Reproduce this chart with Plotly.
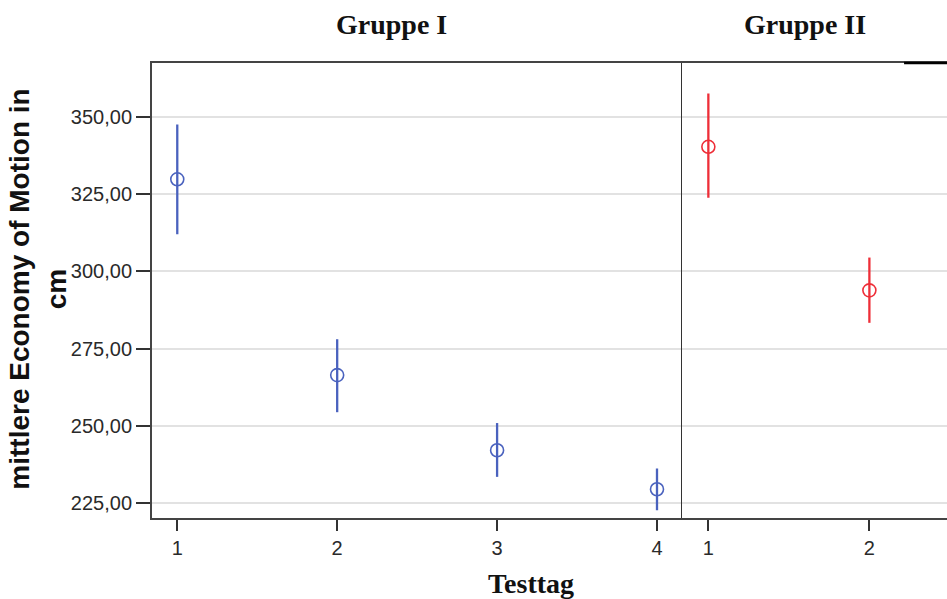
import plotly.graph_objects as go

# Mittelwerte mit 95%-Konfidenzintervall je Testtag
tage_g1 = [1, 2, 3, 4]
mittel_g1 = [329.7, 266.4, 242.1, 229.5]
oben_g1 = [347.4, 278.0, 250.9, 236.2]
unten_g1 = [311.9, 254.4, 233.5, 222.7]

tage_g2 = [1, 2]
mittel_g2 = [340.2, 293.8]
oben_g2 = [357.4, 304.4]
unten_g2 = [323.7, 283.3]

y_ticks = [225, 250, 275, 300, 325, 350]
y_ticktext = [f"{v},00" for v in y_ticks]

BLAU = "#4A62BE"
ROT = "#EE2E38"


def spur(x, m, o, u, farbe, xa, ya):
    return go.Scatter(
        x=x, y=m, xaxis=xa, yaxis=ya, mode="markers",
        marker=dict(symbol="circle-open", size=13, color=farbe,
                    line=dict(width=1.6, color=farbe)),
        error_y=dict(type="data", symmetric=False,
                     array=[a - b for a, b in zip(o, m)],
                     arrayminus=[b - c for b, c in zip(m, u)],
                     color=farbe, thickness=2.3, width=0),
        showlegend=False, hoverinfo="skip",
    )


fig = go.Figure()
fig.add_trace(spur(tage_g1, mittel_g1, oben_g1, unten_g1, BLAU, "x", "y"))
fig.add_trace(spur(tage_g2, mittel_g2, oben_g2, unten_g2, ROT, "x2", "y2"))

tickfont = dict(family="Arial, Liberation Sans, sans-serif", size=20, color="#2a2a2a")
yrange = [220.2, 367.3]
split = 0.667

fig.update_layout(
    width=947, height=599,
    margin=dict(l=152, r=0, t=63, b=81),
    paper_bgcolor="white", plot_bgcolor="white",
    xaxis=dict(domain=[0, split], range=[0.842, 4.158], tickvals=tage_g1,
               ticktext=[str(t) for t in tage_g1], ticks="outside", ticklen=11,
               tickwidth=2, tickcolor="#333", showline=True, linewidth=2,
               linecolor="#444", mirror=True, showgrid=False, zeroline=False,
               tickfont=tickfont, anchor="y"),
    xaxis2=dict(domain=[split, 1], range=[0.838, 2.482], tickvals=tage_g2,
                ticktext=[str(t) for t in tage_g2], ticks="outside", ticklen=11,
                tickwidth=2, tickcolor="#333", showline=True, linewidth=2,
                linecolor="#444", mirror=True, showgrid=False, zeroline=False,
                tickfont=tickfont, anchor="y2"),
    yaxis=dict(range=yrange, tickvals=y_ticks, ticktext=y_ticktext,
               ticks="outside", ticklen=14, tickwidth=2, tickcolor="#333",
               showline=True, linewidth=2, linecolor="#444",
               showgrid=True, gridcolor="#E2E2E2", gridwidth=2,
               zeroline=False, tickfont=tickfont, anchor="x"),
    yaxis2=dict(range=yrange, tickvals=y_ticks, showticklabels=False,
                ticks="", showline=True, linewidth=1.2, linecolor="#333",
                showgrid=True, gridcolor="#E2E2E2", gridwidth=2,
                zeroline=False, anchor="x2", matches="y"),
)

serif = dict(family="Times New Roman, Liberation Serif, serif", size=28, color="#111")
fig.add_annotation(text="<b>Gruppe I</b>", x=0.301, y=1.085, xref="paper", yref="paper",
                   showarrow=False, font=serif, xanchor="center", yanchor="middle")
fig.add_annotation(text="<b>Gruppe II</b>", x=0.821, y=1.085, xref="paper", yref="paper",
                   showarrow=False, font=serif, xanchor="center", yanchor="middle")
fig.add_annotation(text="<b>Testtag</b>", x=0.477, y=-0.1435, xref="paper", yref="paper",
                   showarrow=False, font=serif, xanchor="center", yanchor="middle")
fig.add_annotation(text="<b>mittlere Economy of Motion in<br>cm</b>", x=-0.1434, y=0.504,
                   xref="paper", yref="paper", showarrow=False, textangle=-90,
                   font=dict(family="Arial, Liberation Sans, sans-serif", size=28, color="#111"),
                   xanchor="center", yanchor="middle")

# kräftigere Rahmenlinie oben rechts
fig.add_shape(type="line", xref="paper", yref="paper", x0=0.946, x1=1, y0=1, y1=1,
              line=dict(color="black", width=2.5))

fig.write_html("out.html")
